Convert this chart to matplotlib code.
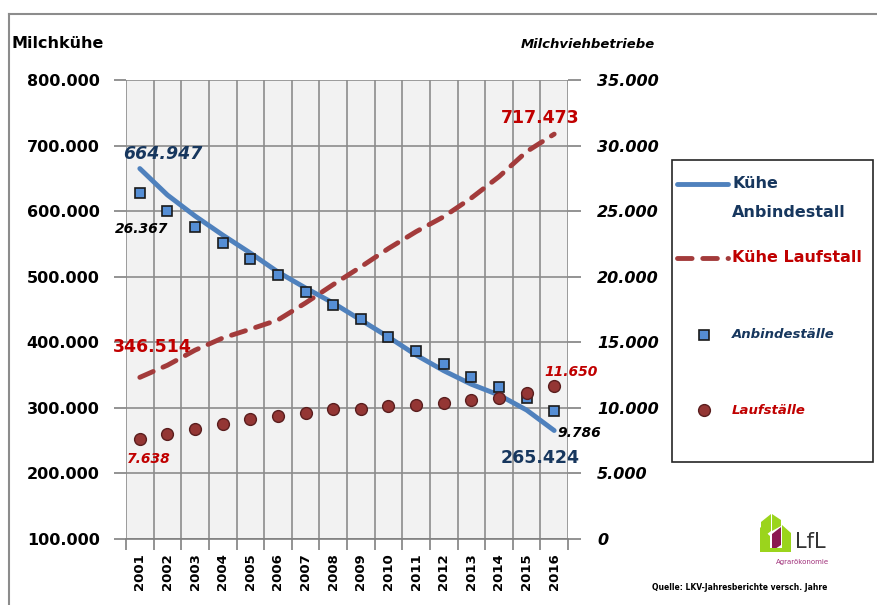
import matplotlib
matplotlib.use("Agg")
import matplotlib.pyplot as plt
from matplotlib.lines import Line2D
from matplotlib.patches import Polygon, Rectangle

# ----- data ------------------------------------------------------------------
YEARS = [str(y) for y in range(2001, 2017)]

# Milchkühe (left axis)
KUEHE_ANBINDESTALL = [664947, 624600, 592600, 563600, 536200, 507200, 482800, 459900,
                      434000, 408000, 380600, 356700, 336000, 319600, 296700, 265424]
KUEHE_LAUFSTALL = [346514, 365000, 388000, 406500, 420000, 434000, 460000, 488000,
                   515000, 543000, 568700, 591500, 620000, 652500, 690700, 717473]

# Milchviehbetriebe (right axis)
ANBINDESTAELLE = [26367, 25040, 23820, 22600, 21370, 20150, 18860, 17860,
                  16790, 15420, 14350, 13360, 12370, 11600, 10760, 9786]
LAUFSTAELLE = [7638, 8015, 8400, 8780, 9160, 9390, 9620, 9920,
               9920, 10150, 10230, 10380, 10610, 10760, 11150, 11650]

LEFT_TICKS = list(range(100000, 800001, 100000))
RIGHT_TICKS = list(range(0, 35001, 5000))

DARKBLUE = "#17375E"
RED = "#C00000"
BLUE_LINE = "#4F81BD"
RED_LINE = "#A33B3B"
SQ_FACE = "#558ED5"
DOT_FACE = "#943634"

W, H = 878, 605


def de(v):
    return f"{v:,}".replace(",", ".")


def px(x, y):
    """pixel position (from top-left) -> figure fraction"""
    return x / W, 1 - y / H


fig = plt.figure(figsize=(W / 100, H / 100), dpi=100)
fig.patch.set_facecolor("white")

x0, y0 = px(126, 539)
x1, y1 = px(568, 80)
ax = fig.add_axes([x0, y0, x1 - x0, y1 - y0])
ax2 = ax.twinx()

xs = list(range(len(YEARS)))

ax.set_facecolor("#F2F2F2")
ax.set_xlim(-0.5, len(YEARS) - 0.5)
ax.set_ylim(100000, 800000)
ax2.set_ylim(0, 35000)

# category labels at centres, grid + tick marks at the boundaries
ax.set_xticks(xs)
ax.set_xticklabels(YEARS, rotation=90, fontsize=9.5, fontweight="bold")
ax.tick_params(axis="x", which="major", length=0, pad=10)
ax.set_xticks([i - 0.5 for i in range(len(YEARS) + 1)], minor=True)
ax.tick_params(axis="x", which="minor", length=8, color="#808080", width=1.2)
ax.grid(True, which="minor", axis="x", color="#8C8C8C", lw=1.2)

ax.set_yticks(LEFT_TICKS)
ax.set_yticklabels([de(v) for v in LEFT_TICKS], fontsize=11.5, fontweight="bold")
ax.tick_params(axis="y", length=9, color="#808080", width=1.2, pad=10)
ax.grid(True, which="major", axis="y", color="#8C8C8C", lw=1.2)

ax2.set_yticks(RIGHT_TICKS)
ax2.set_yticklabels([de(v) for v in RIGHT_TICKS], fontsize=11.5,
                    fontweight="bold", fontstyle="italic")
ax2.tick_params(axis="y", length=9, color="#808080", width=1.2, pad=12)

for a in (ax, ax2):
    for s in ("top", "right", "left"):
        a.spines[s].set_visible(False)
ax.spines["bottom"].set_color("#808080")
ax.spines["bottom"].set_linewidth(1.2)
ax2.spines["bottom"].set_visible(False)
ax.set_axisbelow(True)

# cows: lines on the left axis
ax.plot(xs, KUEHE_ANBINDESTALL, color=BLUE_LINE, lw=3.5, solid_capstyle="round", zorder=3)
ax.plot(xs, KUEHE_LAUFSTALL, color=RED_LINE, lw=3.5, dashes=(3, 2.2),
        dash_capstyle="round", zorder=3)
ax.set_zorder(ax2.get_zorder() - 1)
ax2.patch.set_visible(False)
ax.patch.set_visible(True)

# farms: markers on the right axis
ax2.plot(xs, ANBINDESTAELLE, ls="none", marker="s", ms=7.5, mfc=SQ_FACE,
         mec="#1A1A1A", mew=1.2, zorder=4)
ax2.plot(xs, LAUFSTAELLE, ls="none", marker="o", ms=8.5, mfc=DOT_FACE,
         mec="#5A1E1E", mew=1.0, zorder=4)

# value labels for first and last year
last = len(YEARS) - 1
lbl = dict(textcoords="offset pixels", ha="center", va="center", fontweight="bold")
ax.annotate(de(KUEHE_ANBINDESTALL[0]), (0, KUEHE_ANBINDESTALL[0]), xytext=(23, 15),
            color=DARKBLUE, fontsize=12.5, fontstyle="italic", **lbl)
ax.annotate(de(KUEHE_ANBINDESTALL[last]), (last, KUEHE_ANBINDESTALL[last]), xytext=(-14, -27),
            color=DARKBLUE, fontsize=12.5, **lbl)
ax.annotate(de(KUEHE_LAUFSTALL[0]), (0, KUEHE_LAUFSTALL[0]), xytext=(12, 30),
            color=RED, fontsize=12.5, **lbl)
ax.annotate(de(KUEHE_LAUFSTALL[last]), (last, KUEHE_LAUFSTALL[last]), xytext=(-14, 16),
            color=RED, fontsize=12.5, **lbl)
ax2.annotate(de(ANBINDESTAELLE[0]), (0, ANBINDESTAELLE[0]), xytext=(2, -36),
             color="black", fontsize=10, fontstyle="italic", **lbl)
ax2.annotate(de(ANBINDESTAELLE[last]), (last, ANBINDESTAELLE[last]), xytext=(25, -22),
             color="black", fontsize=10, fontstyle="italic", **lbl)
ax2.annotate(de(LAUFSTAELLE[0]), (0, LAUFSTAELLE[0]), xytext=(9, -20),
             color=RED, fontsize=10, fontstyle="italic", **lbl)
ax2.annotate(de(LAUFSTAELLE[last]), (last, LAUFSTAELLE[last]), xytext=(17, 14),
             color=RED, fontsize=10, fontstyle="italic", **lbl)

# axis titles
fig.text(*px(12, 43), "Milchkühe", fontsize=11.5, fontweight="bold", va="center", ha="left")
fig.text(*px(655, 45), "Milchviehbetriebe", fontsize=9.5, fontweight="bold",
         fontstyle="italic", va="center", ha="right")

# outer frame
fig.add_artist(Line2D([9 / W, 1], [1 - 14 / H] * 2, color="#8C8C8C", lw=1.5))
fig.add_artist(Line2D([9 / W] * 2, [0, 1 - 14 / H], color="#8C8C8C", lw=1.5))

# legend box
lx0, ly0 = px(672, 462)
lx1, ly1 = px(873, 160)
fig.add_artist(Rectangle((lx0, ly0), lx1 - lx0, ly1 - ly0, transform=fig.transFigure,
                         fill=False, ec="#262626", lw=1.2))
fig.add_artist(Line2D([677 / W, 728 / W], [1 - 184 / H] * 2, color=BLUE_LINE, lw=3.5,
                      solid_capstyle="round"))
fig.text(*px(732, 184), "Kühe", color=DARKBLUE, fontsize=11.5, fontweight="bold", va="center")
fig.text(*px(732, 212), "Anbindestall", color=DARKBLUE, fontsize=11.5, fontweight="bold", va="center")
fig.add_artist(Line2D([677 / W, 728 / W], [1 - 258 / H] * 2, color=RED_LINE, lw=3.5,
                      dashes=(3, 2.2), dash_capstyle="round"))
fig.text(*px(732, 258), "Kühe Laufstall", color=RED, fontsize=11.5, fontweight="bold", va="center")
fig.add_artist(Line2D([704 / W], [1 - 335 / H], ls="none", marker="s", ms=7.5, mfc=SQ_FACE,
                      mec="#1A1A1A", mew=1.2))
fig.text(*px(732, 335), "Anbindeställe", color=DARKBLUE, fontsize=9.5, fontweight="bold",
         fontstyle="italic", va="center")
fig.add_artist(Line2D([704 / W], [1 - 410 / H], ls="none", marker="o", ms=8.5, mfc=DOT_FACE,
                      mec="#5A1E1E", mew=1.0))
fig.text(*px(732, 410), "Laufställe", color=RED, fontsize=9.5, fontweight="bold",
         fontstyle="italic", va="center")

# LfL logo
LIME = "#9BD41C"
for pts, col in [
    ([(760, 527), (770, 536), (770, 552), (760, 552)], LIME),
    ([(761, 522), (771, 514), (771, 531), (761, 539)], LIME),
    ([(772, 534), (781, 527), (781, 545), (772, 551)], "#8B1850"),
    ([(772, 514), (781, 520), (781, 526), (772, 531)], LIME),
    ([(782, 525), (791, 533), (791, 552), (782, 552)], LIME),
    ([(770, 548), (782, 548), (782, 552), (770, 552)], LIME),
]:
    fig.add_artist(Polygon([px(*p) for p in pts], closed=True, transform=fig.transFigure,
                           fc=col, ec="none"))
fig.text(*px(795, 542), "LfL", fontsize=15, color="#333333", va="center", ha="left")
fig.text(*px(803, 562), "Agrarökonomie", fontsize=5, color="#A0307A", va="center", ha="center")

fig.text(*px(740, 588), "Quelle: LKV-Jahresberichte versch. Jahre", fontsize=5.5,
         fontweight="bold", va="center", ha="center")

fig.savefig("out.png", dpi=100)
